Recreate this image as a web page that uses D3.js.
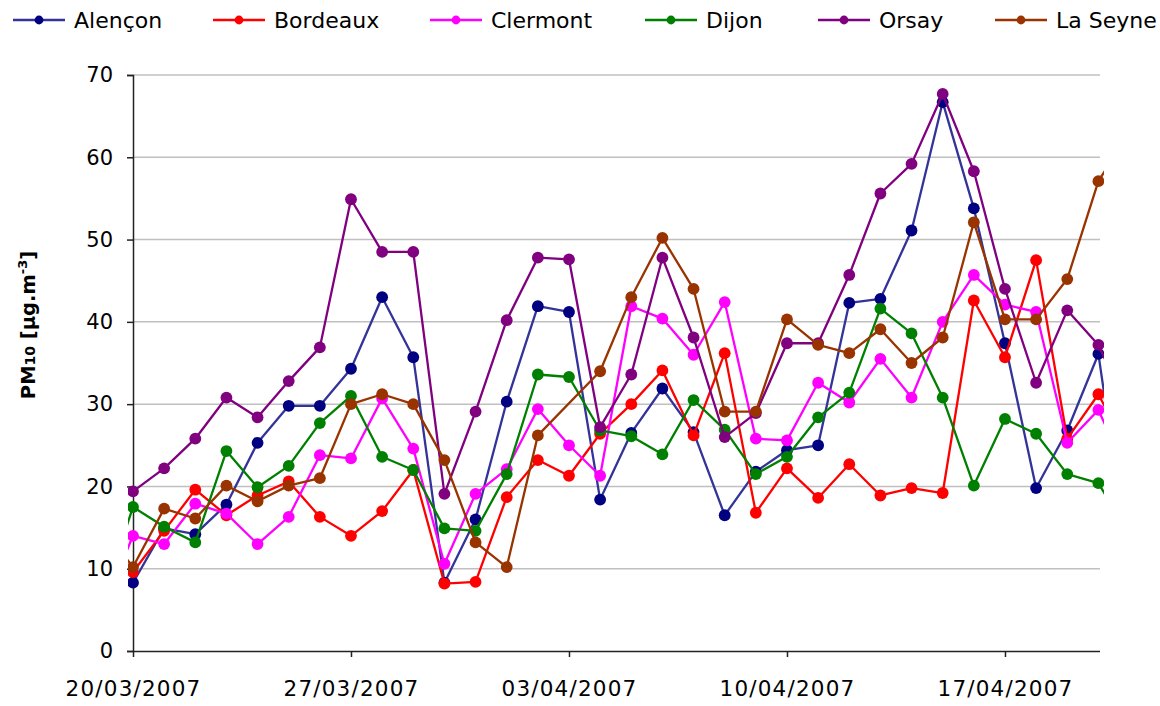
<!DOCTYPE html>
<html>
<head>
<meta charset="utf-8">
<script src="https://cdn.jsdelivr.net/npm/d3@7"></script>
<style>
  html, body { margin: 0; padding: 0; background: #fff; }
  svg { display: block; font-family: "DejaVu Sans", Verdana, sans-serif; }
</style>
</head>
<body>
<svg id="chart" width="1160" height="706"></svg>
<script>
// Daily PM10 concentrations, 19/03/2007 to 21/04/2007 (first and last day fall outside the plotted window)
const dates = [
  "19/03/2007", "20/03/2007", "21/03/2007", "22/03/2007", "23/03/2007", "24/03/2007",
  "25/03/2007", "26/03/2007", "27/03/2007", "28/03/2007", "29/03/2007", "30/03/2007",
  "31/03/2007", "01/04/2007", "02/04/2007", "03/04/2007", "04/04/2007", "05/04/2007",
  "06/04/2007", "07/04/2007", "08/04/2007", "09/04/2007", "10/04/2007", "11/04/2007",
  "12/04/2007", "13/04/2007", "14/04/2007", "15/04/2007", "16/04/2007", "17/04/2007",
  "18/04/2007", "19/04/2007", "20/04/2007", "21/04/2007"
];

const seriesNames = ["Alençon", "Bordeaux", "Clermont", "Dijon", "Orsay", "La Seyne"];

const alencon = [null, 8.3, 14.9, 14.2, 17.8, 25.3, 29.8, 29.8, 34.3, 43.0, 35.7, 8.3, 16.0, 30.3, 41.9, 41.2, 18.4, 26.5, 31.9, 26.6, 16.5, 21.8, 24.4, 25.0, 42.3, 42.8, 51.1, 66.7, 53.8, 37.4, 19.8, 26.8, 36.1, 10];
const bordeaux = [null, 9.6, 14.6, 19.6, 16.5, 18.9, 20.6, 16.3, 14.0, 17.0, 22.0, 8.2, 8.4, 18.7, 23.2, 21.3, 26.4, 30.0, 34.1, 26.2, 36.2, 16.8, 22.2, 18.6, 22.7, 18.9, 19.8, 19.2, 42.6, 35.7, 47.5, 25.8, 31.2, 24];
const clermont = [5, 14.0, 13.0, 17.9, 16.7, 13.0, 16.3, 23.8, 23.4, 30.7, 24.6, 10.6, 19.1, 22.1, 29.4, 25.0, 21.3, 41.9, 40.4, 36.0, 42.4, 25.8, 25.6, 32.6, 30.2, 35.5, 30.8, 40.0, 45.7, 42.1, 41.2, 25.3, 29.3, 21];
const dijon = [6, 17.5, 15.1, 13.2, 24.3, 19.9, 22.5, 27.7, 31.0, 23.6, 22.0, 14.9, 14.6, 21.5, 33.6, 33.3, 26.8, 26.1, 23.9, 30.5, 26.9, 21.5, 23.6, 28.4, 31.4, 41.6, 38.6, 30.8, 20.1, 28.2, 26.4, 21.5, 20.4, 14];
const orsay = [null, 19.4, 22.2, 25.8, 30.8, 28.4, 32.8, 36.9, 54.9, 48.5, 48.5, 19.1, 29.1, 40.2, 47.8, 47.6, 27.2, 33.6, 47.8, 38.1, 26.0, 28.9, 37.4, 37.4, 45.7, 55.6, 59.2, 67.7, 58.3, 44.0, 32.6, 41.4, 37.2, 29];
const laSeyne = [15, 10.2, 17.3, 16.1, 20.1, 18.2, 20.1, 21.0, 30.0, 31.2, 30.0, 23.2, 13.2, 10.2, 26.2, null, 34.0, 43.0, 50.2, 44.0, 29.1, 29.1, 40.3, 37.2, 36.2, 39.1, 35.0, 38.1, 52.1, 40.3, 40.3, 45.2, 57.1, 63];

const yTicks = [0, 10, 20, 30, 40, 50, 60, 70];
const xTickLabels = ["20/03/2007", "27/03/2007", "03/04/2007", "10/04/2007", "17/04/2007"];

// Styling
const lineColors   = ["#333399", "#ff0000", "#ff00ff", "#008000", "#800080", "#993300"];
const markerColors = ["#000080", "#ff0000", "#ff00ff", "#008000", "#800080", "#993300"];
const legendX = [13, 213, 430, 645, 818, 995];

const parse = d3.timeParse("%d/%m/%Y");
const fmt = d3.timeFormat("%d/%m/%Y");
const allValues = [alencon, bordeaux, clermont, dijon, orsay, laSeyne];
const series = seriesNames.map((name, i) => ({
  name,
  line: lineColors[i],
  marker: markerColors[i],
  points: dates.map((d, j) => ({ date: parse(d), value: allValues[i][j] }))
                .filter(p => p.value !== null)
}));

const plot = { left: 133, right: 1100, top: 75, bottom: 651 };
const svg = d3.select("#chart");

const x = d3.scaleTime()
  .domain([parse("20/03/2007"), parse("20/04/2007")])
  .range([plot.left, 1098.4]);
const y = d3.scaleLinear().domain([0, 70]).range([plot.bottom, plot.top]);

// Horizontal gridlines
svg.append("g")
  .selectAll("line")
  .data(yTicks.filter(v => v > 0))
  .join("line")
  .attr("x1", plot.left).attr("x2", plot.right)
  .attr("y1", d => y(d)).attr("y2", d => y(d))
  .attr("stroke", "#c0c0c0").attr("stroke-width", 1.5);

// Y axis
const yAxis = svg.append("g")
  .attr("transform", `translate(${plot.left},0)`)
  .call(d3.axisLeft(y).tickValues(yTicks).tickSize(6).tickPadding(14).tickFormat(d3.format("d")));
yAxis.select(".domain").attr("stroke", "#222").attr("stroke-width", 1.5);
yAxis.selectAll(".tick line").attr("stroke", "#222").attr("stroke-width", 1.5);
yAxis.selectAll("text").attr("font-size", 21).attr("fill", "#000")
  .attr("font-family", "DejaVu Sans, sans-serif");

// X axis
const xAxis = svg.append("g")
  .attr("transform", `translate(0,${plot.bottom})`)
  .call(d3.axisBottom(x)
    .tickValues(xTickLabels.map(parse))
    .tickSize(6).tickPadding(24)
    .tickFormat(fmt)
    .tickSizeOuter(0));
xAxis.select(".domain").attr("d", `M${plot.left},0.5H${plot.right}`)
  .attr("stroke", "#222").attr("stroke-width", 1.5);
xAxis.selectAll(".tick line").attr("stroke", "#222").attr("stroke-width", 1.5);
xAxis.selectAll("text").attr("font-size", 21.5).attr("fill", "#000")
  .attr("letter-spacing", 1.2)
  .attr("font-family", "DejaVu Sans, sans-serif");

// Y axis title
const yTitle = svg.append("text")
  .attr("transform", "translate(35,325) rotate(-90)")
  .attr("text-anchor", "middle")
  .attr("font-size", 19.5).attr("font-weight", "bold").attr("fill", "#000");
yTitle.append("tspan").text("PM");
yTitle.append("tspan").attr("font-size", 14).text("10");
yTitle.append("tspan").text(" [µg.m");
yTitle.append("tspan").attr("font-size", 13).attr("dy", -8).text("-3");
yTitle.append("tspan").attr("dy", 8).text("]");

// Series, clipped to the plot area
svg.append("clipPath").attr("id", "plot-clip")
  .append("rect")
  .attr("x", plot.left - 5).attr("y", 0)
  .attr("width", plot.right - plot.left + 9).attr("height", plot.bottom + 2);

const lineGen = d3.line().x(p => x(p.date)).y(p => y(p.value));
const plotG = svg.append("g").attr("clip-path", "url(#plot-clip)");

series.forEach(s => {
  const g = plotG.append("g");
  g.append("path")
    .attr("d", lineGen(s.points))
    .attr("fill", "none")
    .attr("stroke", s.line)
    .attr("stroke-width", 2.3)
    .attr("stroke-linejoin", "round");
  g.selectAll("circle")
    .data(s.points)
    .join("circle")
    .attr("cx", p => x(p.date))
    .attr("cy", p => y(p.value))
    .attr("r", 5.9)
    .attr("fill", s.marker);
});

// Legend
const legend = svg.append("g");
series.forEach((s, i) => {
  const lg = legend.append("g").attr("transform", `translate(${legendX[i]},20)`);
  lg.append("line").attr("x1", 0).attr("x2", 52).attr("y1", 0).attr("y2", 0)
    .attr("stroke", s.line).attr("stroke-width", 2.3);
  lg.append("circle").attr("cx", 26).attr("cy", 0).attr("r", 4.4).attr("fill", s.marker);
  lg.append("text").attr("x", 61).attr("y", 0).attr("dy", "0.36em")
    .attr("font-size", 22).attr("fill", "#000").text(s.name);
});
</script>
</body>
</html>
